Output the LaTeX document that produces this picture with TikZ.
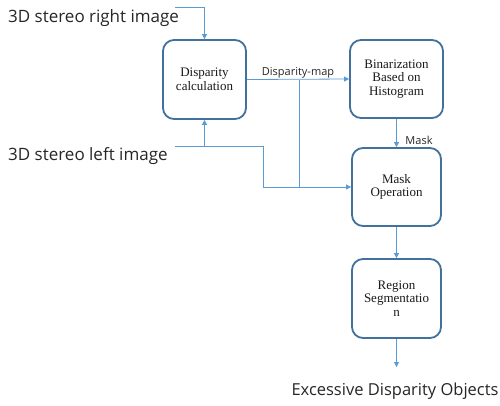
\documentclass[tikz,border=0pt]{standalone}
\usepackage{fontspec}
\setmainfont{Liberation Serif}
\newfontfamily\labelfont{Open Sans}
\usetikzlibrary{arrows.meta}
\definecolor{boxedge}{HTML}{41719C}
\definecolor{wire}{HTML}{5B9BD5}
\tikzset{
  procbox/.style={draw=boxedge, line width=1.8pt, rounded corners=11pt, fill=white,
    align=center, inner sep=0pt, font=\fontsize{13}{13.5}\selectfont, text=black!90},
  conn/.style={draw=wire, line width=0.8pt},
  arr/.style={conn, -{Triangle[length=5pt,width=5pt]}},
  biglabel/.style={font=\labelfont\fontsize{17}{20}\selectfont, inner sep=0pt, text=black!85},
  smalllabel/.style={font=\labelfont\fontsize{11}{13}\selectfont, inner sep=0pt, text=black!85}
}
\begin{document}
\begin{tikzpicture}[x=1pt,y=-1pt]
\useasboundingbox (0,0) rectangle (500,405);
\node[procbox, minimum width=83pt, minimum height=79pt] (disp) at (204.5,79.5) {Disparity\\calculation};
\node[procbox, minimum width=93pt, minimum height=78pt] (bin) at (396.5,79) {Binarization\\Based on\\Histogram};
\node[procbox, minimum width=89pt, minimum height=78pt] (mask) at (396.5,187) {Mask\\Operation};
\node[procbox, minimum width=89pt, minimum height=79pt] (region) at (396.5,298.5) {Region\\Segmentatio\\n};
\node[biglabel, anchor=west] (rimg) at (8,18) {3D stereo right image};
\node[biglabel, anchor=west] (limg) at (8,156) {3D stereo left image};
\node[biglabel, font=\labelfont\fontsize{16.5}{20}\selectfont] (out) at (395,391) {Excessive Disparity Objects};
\node[smalllabel] (dmap) at (298,73) {Disparity-map};
\node[smalllabel] (mlabel) at (419,140) {Mask};
\coordinate (rstart) at (175,7);
\coordinate (lstart) at (175,146);
\coordinate (lturn) at (263,146);
\coordinate (outend) at (396.5,367);
\coordinate (split) at (299,79.5);
\draw[arr] (rstart) -| (disp.north);
\draw[arr] (lstart) -| (disp.south);
\draw[arr] (lstart) -- (lturn) |- (mask.west);
\draw[arr] (disp.east) -- (bin.west);
\draw[conn] (split) -- (split |- mask.west);
\draw[arr] (bin.south) -- (mask.north);
\draw[arr] (mask.south) -- (region.north);
\draw[arr] (region.south) -- (outend);
\end{tikzpicture}
\end{document}
